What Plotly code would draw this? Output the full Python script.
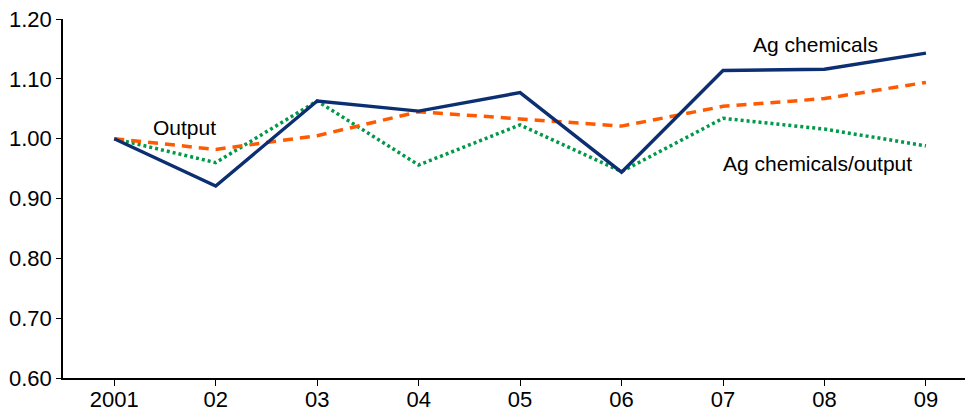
import plotly.graph_objects as go

years = ["2001", "02", "03", "04", "05", "06", "07", "08", "09"]
ag_chemicals = [1.000, 0.921, 1.063, 1.046, 1.077, 0.944, 1.114, 1.116, 1.143]
output = [1.000, 0.982, 1.005, 1.045, 1.033, 1.021, 1.054, 1.067, 1.094]
ratio = [1.000, 0.960, 1.063, 0.956, 1.023, 0.945, 1.034, 1.016, 0.988]

y_ticks = [0.6, 0.7, 0.8, 0.9, 1.0, 1.1, 1.2]

fig = go.Figure()
fig.add_trace(go.Scatter(x=years, y=ratio, mode="lines",
                         line=dict(color="#00994a", width=3.5, dash="3px,3px")))
fig.add_trace(go.Scatter(x=years, y=output, mode="lines",
                         line=dict(color="#ff5a00", width=3.5, dash="10px,7px")))
fig.add_trace(go.Scatter(x=years, y=ag_chemicals, mode="lines",
                         line=dict(color="#0c2f72", width=3.4)))

font = dict(family="Liberation Sans, Arial, sans-serif", size=21, color="black")
tick_font = dict(family="Liberation Sans, Arial, sans-serif", size=22, color="black")
# series labels
fig.add_annotation(x=6.91, y=1.158, text="Ag chemicals", showarrow=False, font=font)
fig.add_annotation(x=0.69, y=1.018, text="Output", showarrow=False, font=font)
fig.add_annotation(x=6.93, y=0.958, text="Ag chemicals/output", showarrow=False, font=font)

fig.update_layout(
    width=965, height=412,
    margin=dict(l=63, r=0, t=19, b=34),
    plot_bgcolor="white", paper_bgcolor="white",
    showlegend=False,
    font=font,
)
fig.update_xaxes(type="category", range=[-0.505, 8.385], showline=True,
                 linecolor="black", linewidth=1.5, ticks="outside", ticklen=6,
                 tickcolor="black", showgrid=False, zeroline=False,
                 tickfont=tick_font, automargin=False, ticklabelstandoff=-5)
fig.update_yaxes(range=[0.6, 1.2], tickvals=y_ticks, tickformat=".2f",
                 showline=True, linecolor="black", linewidth=1.5,
                 ticks="outside", ticklen=5, tickcolor="black",
                 showgrid=False, zeroline=False, tickfont=tick_font,
                 automargin=False)

# page body has a default 8px margin, drop it so the figure fills the window
fig.write_html("out.html", config={"displayModeBar": False},
               post_script="document.body.style.margin='0';")
